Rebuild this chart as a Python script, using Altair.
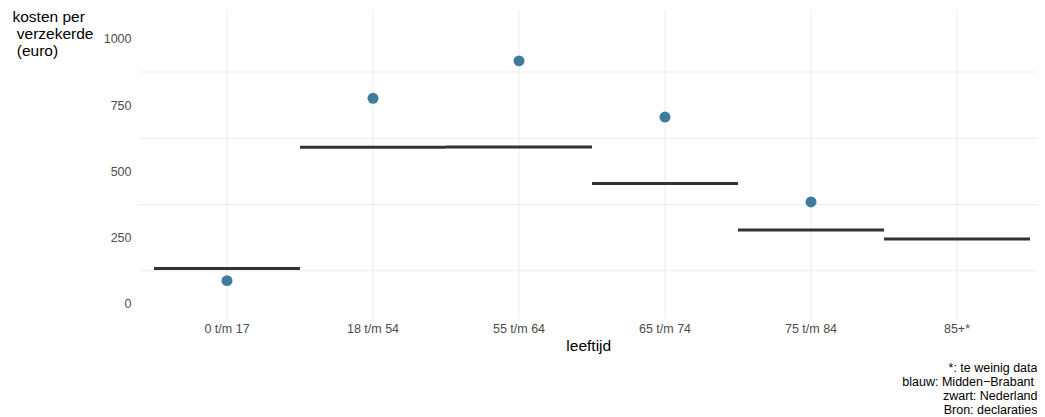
import altair as alt
import pandas as pd

categories = ["0 t/m 17", "18 t/m 54", "55 t/m 64", "65 t/m 74", "75 t/m 84", "85+*"]
midden_brabant = [88, 776, 917, 705, 385, None]
nederland = [134, 591, 592, 454, 279, 245]
y_ticks = [0, 250, 500, 750, 1000]
minor_grid = [125, 375, 625, 875]
caption = ["*: te weinig data", "blauw: Midden\u2212Brabant \u200b", "zwart: Nederland", "Bron: declaraties"]
y_title = ["kosten per", "\u200b verzekerde", "\u200b (euro)"]

FONT = "Liberation Sans"

df_nl = pd.DataFrame({"leeftijd": categories, "kosten": nederland})
df_mb = pd.DataFrame({"leeftijd": categories, "kosten": midden_brabant}).dropna()
df_grid = pd.DataFrame({"v": minor_grid})

LEFT = 131.5
W, H = 1029 - LEFT, 308
step = 146.0
outer_total = W - 6 * step
pad_outer = outer_total / 2 / step
align = 14.5 / outer_total

xscale = alt.Scale(domain=categories, paddingInner=0, paddingOuter=pad_outer,
                   align=align, round=False)
yscale = alt.Scale(domain=[-53, 1109], nice=False, zero=False)

x_enc = alt.X("leeftijd:N", scale=xscale, sort=categories,
              axis=alt.Axis(title="leeftijd", labelAngle=0, domain=False, ticks=False,
                            grid=True, gridColor="#EBEBEB", gridWidth=1,
                            labelFont=FONT, labelFontSize=12.5, labelColor="#4D4D4D",
                            labelPadding=4, titleFont=FONT, titleFontSize=15.5,
                            titleFontWeight="normal", titleColor="black", titlePadding=4))

y_enc = alt.Y("kosten:Q", scale=yscale,
              axis=alt.Axis(values=y_ticks, format="d", grid=False, domain=False, ticks=False,
                            labelFont=FONT, labelFontSize=12.5, labelColor="#4D4D4D",
                            labelPadding=8.5,
                            title=y_title,
                            titleAngle=0, titleAlign="left", titleBaseline="top",
                            titleX=-127.5, titleY=-1, titleLineHeight=17,
                            titleFont=FONT, titleFontSize=15.5, titleFontWeight="normal",
                            titleColor="black"))

grid = alt.Chart(df_grid).mark_rule(color="#EBEBEB", strokeWidth=1).encode(
    y=alt.Y("v:Q", scale=yscale)
)

segs = alt.Chart(df_nl).mark_tick(color="#333333", thickness=3, size=step, opacity=1).encode(
    x=x_enc, y=y_enc
)

pts = alt.Chart(df_mb).mark_point(filled=True, color="#3E7C9B", size=120, opacity=1).encode(
    x=alt.X("leeftijd:N", scale=xscale, sort=categories),
    y=alt.Y("kosten:Q", scale=yscale),
)

chart = alt.layer(grid, segs, pts).properties(
    width=W, height=H,
    autosize=alt.AutoSizeParams(type="none"),
    padding={"left": LEFT, "top": 2, "right": 0, "bottom": 99},
    title=alt.TitleParams(text=caption, orient="bottom", anchor="end", align="right",
                          font=FONT, fontSize=12.5, fontWeight="normal", color="black",
                          lineHeight=14, offset=8),
).configure_view(stroke=None)

chart.save("out.html", embed_options={"renderer": "svg", "actions": False})
